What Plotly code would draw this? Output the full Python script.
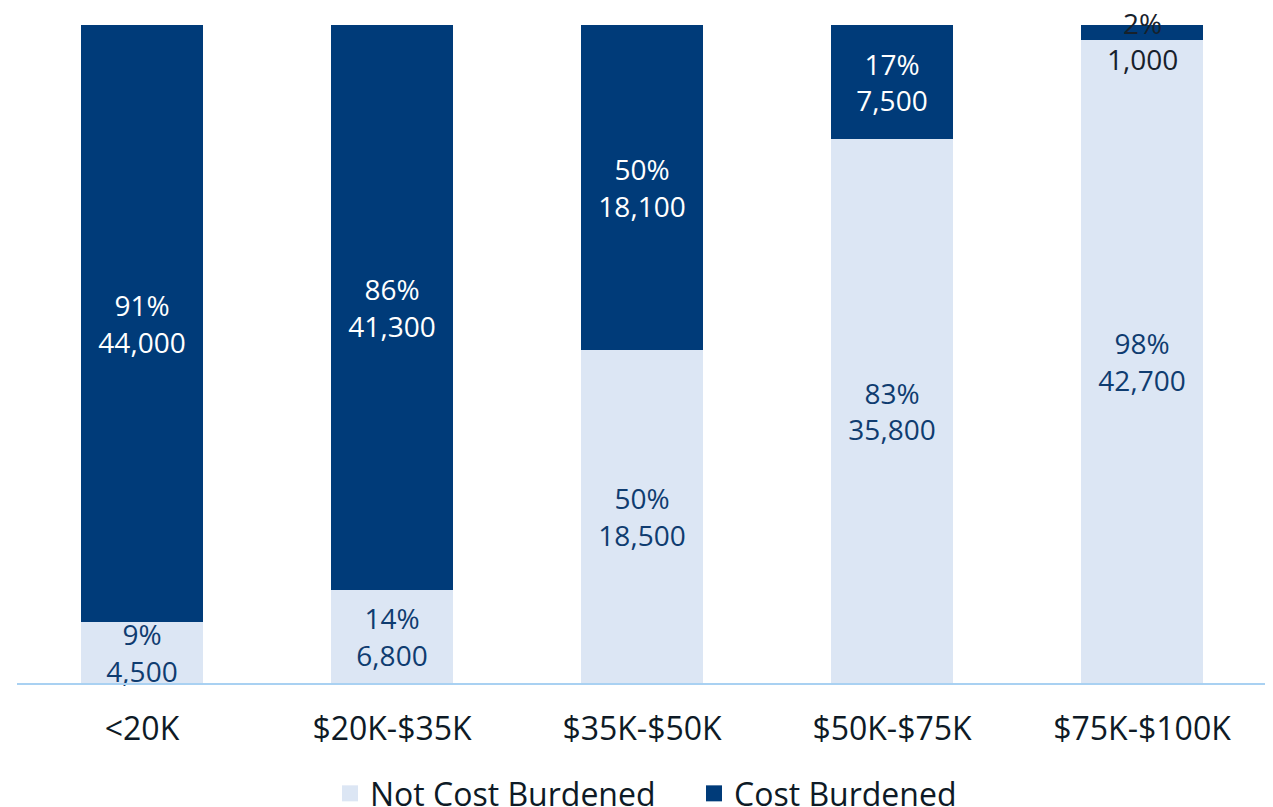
import plotly.graph_objects as go

categories = ["<20K", "$20K-$35K", "$35K-$50K", "$50K-$75K", "$75K-$100K"]
not_burdened = [4500, 6800, 18500, 35800, 42700]
burdened = [44000, 41300, 18100, 7500, 1000]
not_burdened_pct = [9, 14, 50, 83, 98]
burdened_pct = [91, 86, 50, 17, 2]

DARK = "#003B79"
LIGHT = "#DCE6F4"
FONT = "Open Sans"
TXT = "#0E1A26"
LBL_LIGHT = "#0F3C70"

def labels(pcts, vals):
    return [f"{p}%<br>{v:,}" for p, v in zip(pcts, vals)]

nb_text = labels(not_burdened_pct, not_burdened)
b_text = labels(burdened_pct, burdened)
# the thin top segment of the last bar is labelled with an annotation instead
b_text_bar = b_text[:-1] + [""]

fig = go.Figure()
fig.add_trace(go.Bar(
    name="Not Cost Burdened", x=categories, y=not_burdened,
    marker=dict(color=LIGHT, line=dict(width=0)),
    text=nb_text, textposition="inside", insidetextanchor="middle",
    textangle=0, constraintext="none", cliponaxis=False,
    textfont=dict(family=FONT, size=28, color=LBL_LIGHT),
    hoverinfo="skip", showlegend=False,
))
fig.add_trace(go.Bar(
    name="Cost Burdened", x=categories, y=burdened,
    marker=dict(color=DARK, line=dict(width=0)),
    text=b_text_bar, textposition="inside", insidetextanchor="middle",
    textangle=0, constraintext="none", cliponaxis=False,
    textfont=dict(family=FONT, size=28, color="white"),
    hoverinfo="skip", showlegend=False,
))

# legend entries with larger square swatches
for name, col in [("Not Cost Burdened", LIGHT), ("Cost Burdened", DARK)]:
    fig.add_trace(go.Scatter(
        x=[None], y=[None], mode="markers", name=name,
        marker=dict(symbol="square", size=18, color=col),
        hoverinfo="skip", showlegend=True,
    ))

# annotation for the thin last segment (position from the data)
last_total = not_burdened[-1] + burdened[-1]
last_center = 100 * (not_burdened[-1] + burdened[-1] / 2) / last_total
fig.add_annotation(
    x=categories[-1], y=last_center, xref="x", yref="y",
    text=b_text[-1], showarrow=False, yshift=-8,
    font=dict(family=FONT, size=28, color="#17212B"),
)

fig.update_layout(
    barmode="stack", barnorm="percent", bargap=0.512,
    width=1273, height=807,
    margin=dict(l=9, r=14, t=17, b=132, autoexpand=False),
    paper_bgcolor="white", plot_bgcolor="white",
    font=dict(family=FONT, size=28, color=TXT),
    showlegend=True,
    legend=dict(orientation="h", x=0.5416, xanchor="center",
                y=-0.168, yanchor="middle",
                font=dict(family=FONT, size=32, color=TXT),
                traceorder="normal", itemwidth=30,
                entrywidth=319, entrywidthmode="pixels",
                bgcolor="rgba(0,0,0,0)"),
    xaxis=dict(showline=True, linecolor="#A9D1F2", linewidth=2, ticks="",
               tickfont=dict(family=FONT, size=32, color=TXT),
               ticklabelstandoff=17,
               showgrid=False, zeroline=False, fixedrange=True),
    yaxis=dict(range=[0, 100], visible=False, showgrid=False, zeroline=False),
)

fig.write_html("out.html")
